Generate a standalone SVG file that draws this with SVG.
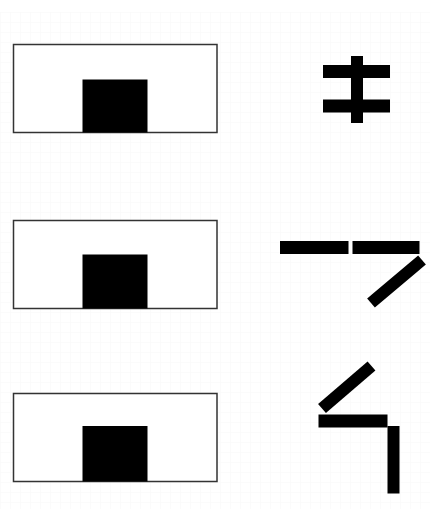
<svg xmlns="http://www.w3.org/2000/svg" width="430" height="509" viewBox="0 0 430 509">
  <defs>
    <style>
      .box { fill: #ffffff; stroke: #333333; stroke-width: 1.5; }
      .sq { fill: #000000; }
      .bar { fill: #000000; }
      .dbar { stroke: #000000; stroke-width: 12; fill: none; }
    </style>
    <pattern id="grid" x="0" y="12" width="10" height="10" patternUnits="userSpaceOnUse">
      <path d="M10 0 L0 0 0 10" fill="none" stroke="#f8f8f8" stroke-width="1"/>
    </pattern>
  </defs>
  <rect x="0" y="0" width="430" height="509" fill="#ffffff"/>
  <rect x="0" y="12" width="430" height="497" fill="url(#grid)"/>

  <g id="node1">
    <rect class="box" x="13.5" y="44.5" width="203.5" height="88"/>
    <rect class="sq" x="82.5" y="79.5" width="65" height="53"/>
  </g>
  <g id="node2">
    <rect class="box" x="13.5" y="220.5" width="203.5" height="88"/>
    <rect class="sq" x="82.5" y="254.5" width="65" height="54"/>
  </g>
  <g id="node3">
    <rect class="box" x="13.5" y="393.5" width="203.5" height="88"/>
    <rect class="sq" x="82.5" y="426" width="65" height="55.5"/>
  </g>

  <g id="symbol1">
    <rect class="bar" x="351" y="56" width="12" height="67"/>
    <rect class="bar" x="323" y="65" width="67" height="13"/>
    <rect class="bar" x="323" y="99.5" width="67" height="13"/>
  </g>
  <g id="symbol2">
    <rect class="bar" x="280" y="241" width="68.5" height="13"/>
    <rect class="bar" x="352.5" y="241" width="67" height="13"/>
    <line class="dbar" x1="371" y1="303" x2="422" y2="260"/>
  </g>
  <g id="symbol3">
    <line class="dbar" x1="322" y1="408.5" x2="371.5" y2="366"/>
    <rect class="bar" x="318.5" y="414.5" width="69" height="13"/>
    <rect class="bar" x="387.5" y="426" width="12" height="67.5"/>
  </g>
</svg>
